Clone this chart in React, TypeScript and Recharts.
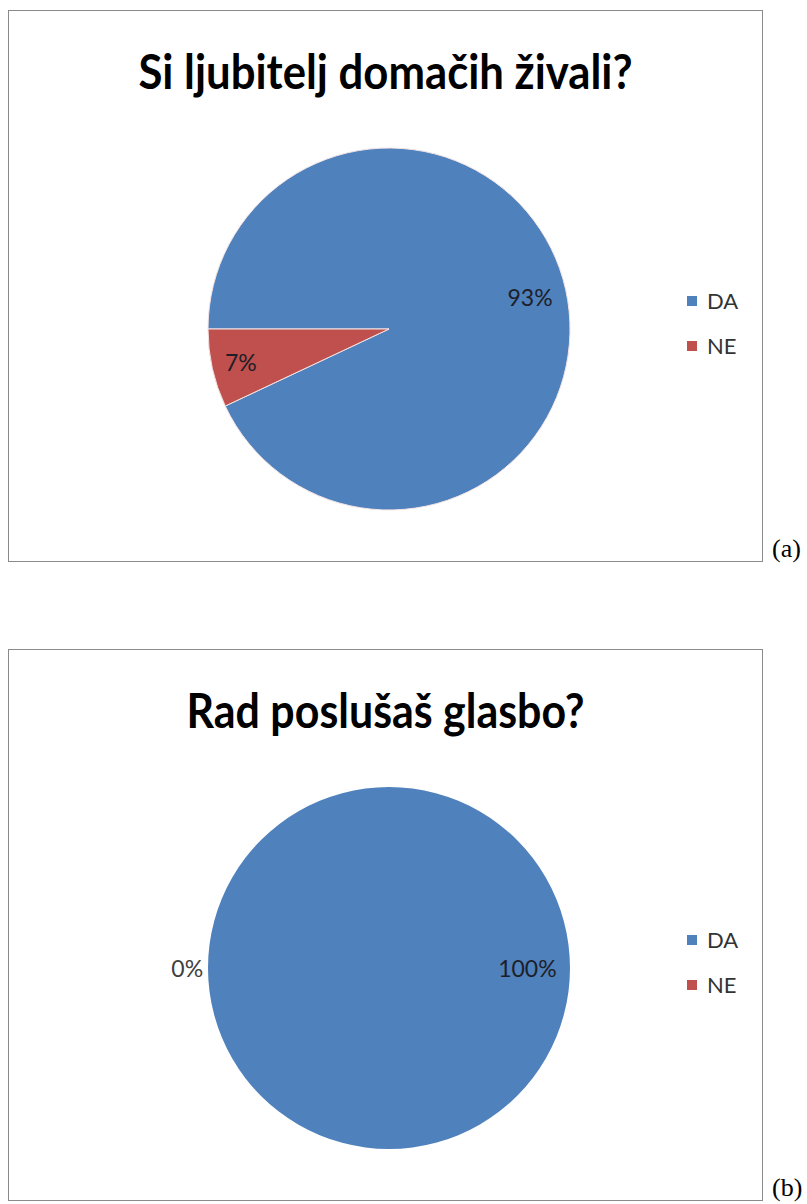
import { PieChart, Pie, Cell, Legend } from "recharts";

// survey answers
const categories = ["DA", "NE"];
const petValues = [93, 7];
const musicValues = [100, 0];
const colors = ["#4F81BD", "#C0504D"];

const petTitle = "Si ljubitelj domačih živali?";
const musicTitle = "Rad poslušaš glasbo?";

const BOX_W = 755;
const BOX_H = 552;
const R = 181;

function makeRows(values: number[]) {
  return categories.map((name, i) => ({ name, value: values[i] }));
}

// Excel-like "inside end" labels, zero slices pushed outside
function renderLabel(props: any) {
  const { cx, cy, midAngle, outerRadius, value, percent } = props;
  const text = `${Math.round(percent * 100)}%`;
  const rad = (Math.PI / 180) * midAngle;
  const cos = Math.cos(rad);
  const sin = Math.sin(rad);
  const hw = text.length * 7.4;
  const hh = 8;
  const inset = hw * Math.abs(cos) + hh * Math.abs(sin);
  const r = value === 0 ? outerRadius + 6 + inset : outerRadius - 13 - inset;
  const x = cx + r * cos;
  const y = cy - r * sin;
  return (
    <text
      x={x}
      y={y}
      textAnchor="middle"
      dominantBaseline="central"
      fontFamily="Lato, 'Open Sans', sans-serif"
      fontSize={23}
      fill={value === 0 ? "#404040" : "#1e1e28"}
    >
      {text}
    </text>
  );
}

function LegendBox(props: any) {
  const items = props.payload || [];
  return (
    <div style={{ fontFamily: "Lato, 'Open Sans', sans-serif", fontSize: 22, color: "#333" }}>
      {items.map((it: any, i: number) => (
        <div key={i} style={{ height: 45, display: "flex", alignItems: "center" }}>
          <span style={{ width: 10, height: 10, background: it.color, display: "inline-block", marginRight: 10 }} />
          <span>{it.value}</span>
        </div>
      ))}
    </div>
  );
}

function PieBox({ top, title, titleWidth, values, tag }: { top: number; title: string; titleWidth: number; values: number[]; tag: string }) {
  const rows = makeRows(values);
  const total = values.reduce((a, b) => a + b, 0);
  return (
    <>
      <div
        style={{
          position: "absolute",
          left: 8,
          top,
          width: BOX_W,
          height: BOX_H,
          border: "1px solid #8a8a8a",
          boxSizing: "border-box",
          background: "#fff",
        }}
      >
        <svg width={BOX_W - 2} height={90} style={{ position: "absolute", left: 0, top: 0 }}>
          <text
            x={(BOX_W - 2) / 2}
            y={78}
            textAnchor="middle"
            fontFamily="Lato, 'Open Sans', sans-serif"
            fontWeight="bold"
            fontSize={47}
            fill="#000"
            textLength={titleWidth}
            lengthAdjust="spacingAndGlyphs"
          >
            {title}
          </text>
        </svg>
        <PieChart width={BOX_W - 2} height={BOX_H - 2} style={{ position: "absolute", left: 0, top: 0 }}>
          <Pie
            data={rows}
            dataKey="value"
            nameKey="name"
            cx={375}
            cy={313}
            outerRadius={R}
            startAngle={180}
            endAngle={-180}
            label={renderLabel}
            labelLine={false}
            isAnimationActive={false}
          >
            {rows.map((row, i) => (
              <Cell
                key={row.name}
                fill={colors[i]}
                stroke={row.value > 0 && row.value < total ? "#f4e4e4" : "none"}
                strokeWidth={1}
              />
            ))}
          </Pie>
          <Legend
            layout="vertical"
            content={LegendBox}
            wrapperStyle={{ left: 678, top: 267, width: 70 }}
          />
        </PieChart>
      </div>
      <span
        style={{
          position: "absolute",
          left: 772,
          top: top + BOX_H - 28,
          fontFamily: "'Liberation Serif', 'DejaVu Serif', serif",
          fontSize: 26,
          lineHeight: "30px",
          whiteSpace: "nowrap",
          color: "#000",
        }}
      >
        {tag}
      </span>
    </>
  );
}

export default function App() {
  return (
    <div style={{ position: "relative", width: 807, height: 1204, overflow: "hidden" }}>
      <style>{"body{margin:0}"}</style>
      <PieBox top={10} title={petTitle} titleWidth={494} values={petValues} tag="(a)" />
      <PieBox top={649} title={musicTitle} titleWidth={398} values={musicValues} tag="(b)" />
    </div>
  );
}
